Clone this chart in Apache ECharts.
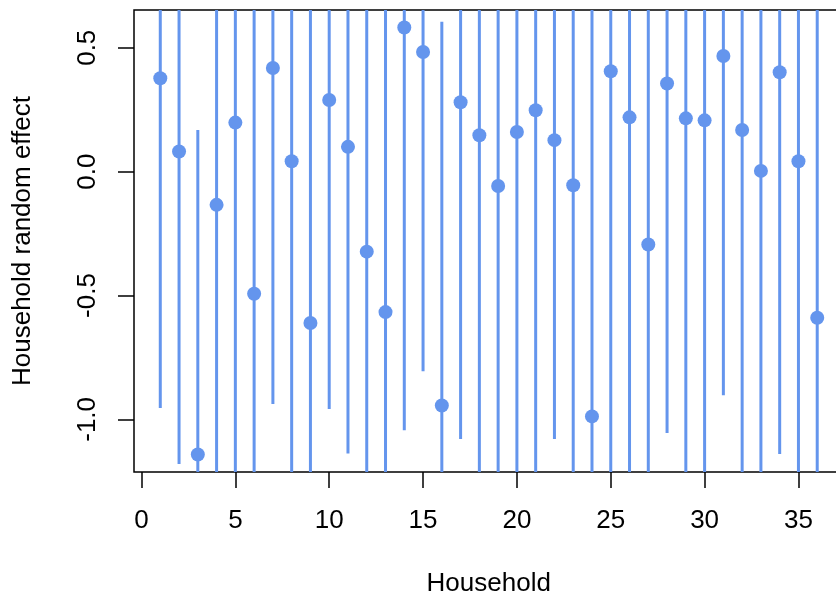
<!DOCTYPE html>
<html>
<head>
<meta charset="utf-8">
<title>Household random effects</title>
<script src="https://cdn.jsdelivr.net/npm/echarts@6/dist/echarts.min.js"></script>
<style>
  html, body { margin: 0; padding: 0; background: #fff; }
  #chart { width: 836px; height: 603px; }
</style>
</head>
<body>
<div id="chart"></div>
<script>
// Household index
const households = [1, 2, 3, 4, 5, 6, 7, 8, 9, 10, 11, 12, 13, 14, 15, 16, 17, 18,
  19, 20, 21, 22, 23, 24, 25, 26, 27, 28, 29, 30, 31, 32, 33, 34, 35, 36];

// Point estimate of each household's random effect
const estimate = [0.377, 0.081, -1.142, -0.134, 0.198, -0.493, 0.418, 0.042, -0.611,
  0.289, 0.100, -0.323, -0.567, 0.582, 0.483, -0.944, 0.280, 0.147, -0.058, 0.160,
  0.248, 0.127, -0.055, -0.988, 0.405, 0.219, -0.294, 0.356, 0.215, 0.207, 0.467,
  0.168, 0.003, 0.401, 0.042, -0.590];

// Interval bounds around each estimate
const lower = [-0.954, -1.180, -2.452, -1.584, -1.352, -1.893, -0.938, -1.408, -2.011,
  -0.958, -1.138, -1.723, -1.967, -1.044, -0.806, -2.493, -1.079, -1.353, -1.508, -1.340,
  -1.352, -1.079, -1.505, -2.688, -1.295, -1.331, -1.694, -1.055, -1.335, -1.343, -0.903,
  -1.332, -1.447, -1.140, -1.408, -1.990];
const upper = [1.708, 1.342, 0.168, 1.316, 1.748, 0.907, 1.774, 1.492, 0.789,
  1.536, 1.338, 1.077, 0.833, 2.208, 1.772, 0.605, 1.639, 1.647, 1.392, 1.660,
  1.848, 1.333, 1.395, 0.712, 2.105, 1.769, 1.106, 1.767, 1.765, 1.757, 1.837,
  1.668, 1.453, 1.942, 1.492, 0.810];

// Axis ticks
const xTicks = [0, 5, 10, 15, 20, 25, 30, 35];
const yTicks = [-1.0, -0.5, 0.0, 0.5];

// Plot ranges (data range padded by 4% on each side)
const xMin = -0.4, xMax = 37.4;
const yMin = -1.2124, yMax = 0.6524;

const markColor = '#6495ED';
const fontFamily = '"Liberation Sans", Arial, Helvetica, sans-serif';

const chart = echarts.init(document.getElementById('chart'), null, { renderer: 'canvas' });

const intervalData = households.map((h, i) => [h, lower[i], upper[i]]);
const pointData = households.map((h, i) => [h, estimate[i]]);

chart.setOption({
  animation: false,
  backgroundColor: '#ffffff',
  textStyle: { fontFamily: fontFamily },
  grid: {
    left: 134,
    top: 10,
    width: 709.5,
    height: 462,
    outerBoundsMode: 'none',
    containLabel: false,
    show: true,
    borderColor: '#000',
    borderWidth: 1.5,
    backgroundColor: 'transparent'
  },
  xAxis: {
    type: 'value',
    min: xMin,
    max: xMax,
    name: 'Household',
    nameLocation: 'middle',
    nameGap: 99,
    nameTextStyle: { fontSize: 26, color: '#000', fontFamily: fontFamily },
    axisLine: { show: false, onZero: false },
    splitLine: { show: false },
    axisTick: {
      show: true,
      length: 16,
      customValues: xTicks,
      lineStyle: { color: '#000', width: 1.5 }
    },
    axisLabel: {
      show: true,
      customValues: xTicks,
      margin: 36,
      fontSize: 26,
      color: '#000',
      fontFamily: fontFamily
    }
  },
  yAxis: {
    type: 'value',
    min: yMin,
    max: yMax,
    name: 'Household random effect',
    nameLocation: 'middle',
    nameRotate: 90,
    nameGap: 98,
    nameTextStyle: { fontSize: 26, color: '#000', fontFamily: fontFamily },
    axisLine: { show: false, onZero: false },
    splitLine: { show: false },
    axisTick: {
      show: true,
      length: 16,
      customValues: yTicks,
      lineStyle: { color: '#000', width: 1.5 }
    },
    axisLabel: {
      show: true,
      customValues: yTicks,
      rotate: 90,
      margin: 33,
      fontSize: 26,
      color: '#000',
      fontFamily: fontFamily,
      formatter: v => v.toFixed(1)
    }
  },
  series: [
    {
      type: 'custom',
      clip: true,
      silent: true,
      data: intervalData,
      renderItem: function (params, api) {
        const top = api.coord([api.value(0), api.value(2)]);
        const bottom = api.coord([api.value(0), api.value(1)]);
        return {
          type: 'line',
          shape: { x1: top[0], y1: top[1], x2: bottom[0], y2: bottom[1] },
          style: { stroke: markColor, lineWidth: 3 }
        };
      },
      z: 2
    },
    {
      type: 'scatter',
      data: pointData,
      symbol: 'circle',
      symbolSize: 14,
      itemStyle: { color: markColor, opacity: 1 },
      silent: true,
      z: 3
    }
  ]
});
</script>
</body>
</html>
